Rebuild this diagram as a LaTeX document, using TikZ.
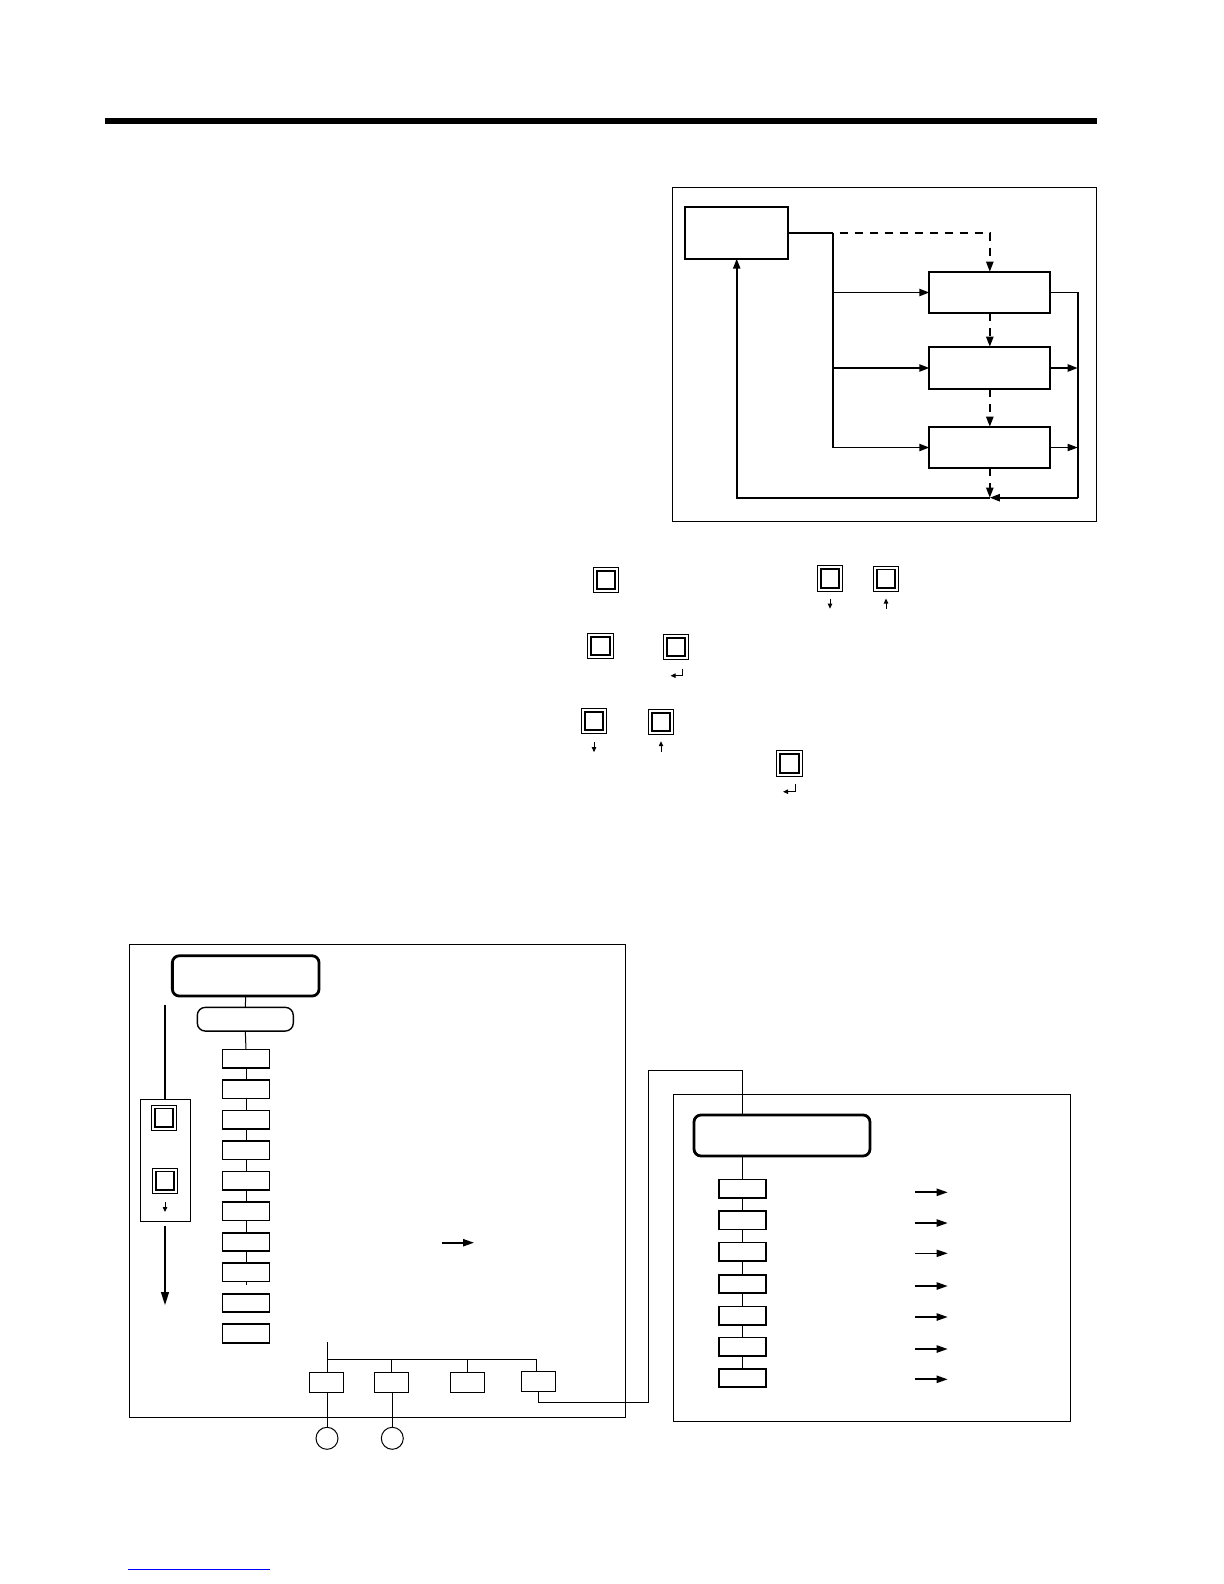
\documentclass[tikz,border=0pt]{standalone}
\usetikzlibrary{arrows.meta}
\begin{document}
\begin{tikzpicture}[x=0.5pt,y=-0.5pt,
  frame/.style={draw,line width=0.5pt},
  tbox/.style={draw,line width=0.9pt,inner sep=0pt,outer sep=0pt},
  sbox/.style={draw,line width=0.85pt,inner sep=0pt,outer sep=0pt,minimum width=23.5pt,minimum height=9.2pt},
  tinybox/.style={draw,line width=0.5pt,inner sep=0pt,outer sep=0pt,minimum width=17pt,minimum height=10pt},
  rbig/.style={draw,line width=1.4pt,rounded corners=3.5pt,inner sep=0pt,outer sep=0pt},
  rsmall/.style={draw,line width=0.7pt,rounded corners=4pt,inner sep=0pt,outer sep=0pt},
  ln/.style={line width=0.85pt},
  thinln/.style={line width=0.5pt},
  dsh/.style={line width=0.85pt,dash pattern=on 4pt off 3.5pt},
  arr/.style={-{Triangle[length=5pt,width=3.6pt]}},
  sarr/.style={-{Triangle[length=2.5pt,width=2.2pt]}},
  keyicon/.style={draw,line width=0.45pt,inner sep=0pt,outer sep=0pt,minimum size=12.7pt,
    path picture={\draw[line width=0.95pt]
      ([xshift=1.7pt,yshift=-1.7pt]path picture bounding box.north west) rectangle
      ([xshift=-1.7pt,yshift=1.7pt]path picture bounding box.south east);}},
  circ/.style={draw,line width=0.5pt,circle,inner sep=0pt,outer sep=0pt,minimum size=11pt}
]
\useasboundingbox (0,0) rectangle (1224,1584);
% top rule
\fill (105,118) rectangle (1097,124);

% ---------- top-right flow diagram ----------
\draw[frame] (672.7,187.3) rectangle (1096.7,521.7);
\node[tbox,minimum width=51.65pt,minimum height=26pt] (A) at (736.7,232.7) {};
\node[tbox,minimum width=60.5pt,minimum height=20.8pt] (B1) at (989.8,292.5) {};
\node[tbox,minimum width=60.5pt,minimum height=21.3pt] (B2) at (989.8,368) {};
\node[tbox,minimum width=60.5pt,minimum height=20.8pt] (B3) at (989.8,447.5) {};
\coordinate (j) at (832.7,232.7);
\coordinate (rx) at (1077.7,497.7);
\coordinate (mb) at (989.8,497.7);
\draw[ln] (A.east) -- (j);
\draw[dsh,dash phase=4pt,arr] (j) -| (B1.north);
\draw[ln,arr] (j) |- (B3.west);
\draw[ln,arr] (j |- B1.west) -- (B1.west);
\draw[ln,arr] (j |- B2.west) -- (B2.west);
\draw[ln] (B1.east) -- (B1.east -| rx) -- (rx);
\draw[ln,arr] (rx) -- (mb);
\draw[ln,arr] (mb) -| (A.south);
\draw[ln,arr] (B2.east) -- (B2.east -| rx);
\draw[thinln,arr] (B3.east) -- (B3.east -| rx);
\draw[dsh,arr] (B1.south) -- (B2.north);
\draw[dsh,arr] (B2.south) -- (B3.north);
\draw[dsh,arr] (B3.south) -- (mb);

% ---------- key icons ----------
\node[keyicon] (K1) at (606,580) {};
\node[keyicon] (K2) at (830,578.5) {};
\node[keyicon] (K3) at (886,578.8) {};
\node[keyicon] (K4) at (600.5,646) {};
\node[keyicon] (K5) at (676,647) {};
\node[keyicon] (K6) at (594,721) {};
\node[keyicon] (K7) at (661,722) {};
\node[keyicon] (K8) at (789.5,763.5) {};
\draw[thinln,sarr] ([shift={(0,7.5)}]K2.south) -- ([shift={(0,17.5)}]K2.south);
\draw[thinln,sarr] ([shift={(0,17)}]K3.south) -- ([shift={(0,7)}]K3.south);
\draw[thinln,sarr] ([shift={(0,8.5)}]K6.south) -- ([shift={(0,18.5)}]K6.south);
\draw[thinln,sarr] ([shift={(0,17)}]K7.south) -- ([shift={(0,6.5)}]K7.south);
\draw[thinln,sarr] ([shift={(6,9)}]K5.south) -- ([shift={(6,16)}]K5.south) -- ([shift={(-5.5,16)}]K5.south);
\draw[thinln,sarr] ([shift={(6,8)}]K8.south) -- ([shift={(6,15.5)}]K8.south) -- ([shift={(-6.5,15.5)}]K8.south);

% ---------- lower-left menu tree ----------
\draw[frame] (129.3,944.3) rectangle (625.7,1417.7);
\node[rbig,minimum width=73.35pt,minimum height=20.15pt] (R1) at (245.7,975.9) {};
\node[rsmall,minimum width=48pt,minimum height=11.85pt] (R2) at (245.3,1019.2) {};
\foreach \i in {1,...,10}
  \node[sbox] (L\i) at (246,{1058.7+(\i-1)*30.53}) {};
\draw[thinln] (R1.south) -- (R2.north);
\draw[thinln] (R2.south) -- (L1.north);
\foreach \i [evaluate=\i as \n using int(\i+1)] in {1,...,7}
  \draw[thinln] (L\i.south) -- (L\n.north);
\coordinate (stub) at (246,1285);
\draw[thinln] (L8.south) -- (stub);

% side key panel
\node[draw,line width=0.5pt,inner sep=0pt,outer sep=0pt,minimum width=25.2pt,minimum height=61.2pt] (P) at (165.5,1160.5) {};
\node[keyicon] (K9) at (164,1117.8) {};
\node[keyicon] (K10) at (165,1180.8) {};
\draw[thinln,sarr] ([shift={(0,8.5)}]K10.south) -- ([shift={(0,18.5)}]K10.south);
\coordinate (ptop) at (165,1005);
\coordinate (pbot) at (165,1305);
\draw[line width=0.75pt] (ptop) -- (P.north -| ptop);
\draw[line width=0.75pt,-{Triangle[length=6.5pt,width=4pt]}] ([yshift=-2pt]P.south -| pbot) -- (pbot);

% middle arrow
\coordinate (ma1) at (441.7,1242.7);
\coordinate (ma2) at (474,1242.7);
\draw[line width=0.8pt,-{Triangle[length=5.5pt,width=3.6pt]}] (ma1) -- (ma2);

% bottom branch
\node[tinybox] (BA) at (326.3,1382.3) {};
\node[tinybox] (BB) at (391.5,1382.3) {};
\node[tinybox] (BC) at (467.5,1382.3) {};
\node[tinybox] (BD) at (538.5,1381.3) {};
\coordinate (bt) at (327.3,1342.3);
\coordinate (bh) at (536.7,1359.3);
\draw[thinln] (bt) -- (bt |- BA.north);
\draw[thinln] (bt |- bh) -- (bh) -- (bh |- BD.north);
\draw[thinln] (BB.north |- bh) -- (BB.north);
\draw[thinln] (BC.north |- bh) -- (BC.north);
\node[circ] (C1) at (327,1438.3) {};
\node[circ] (C2) at (392.3,1438.3) {};
\draw[thinln] (C1.north |- BA.south) -- (C1.north);
\draw[thinln] (C2.north |- BB.south) -- (C2.north);

% ---------- lower-right submenu ----------
\draw[frame] (673.7,1094) rectangle (1070.5,1421);
\node[rbig,minimum width=88pt,minimum height=20.5pt] (R3) at (782,1135.5) {};
\coordinate (rl) at (742.3,1156);
\foreach \y [count=\i] in {1188.7,1220.3,1251.8,1284,1315.8,1346.8,1378}
  \node[sbox] (S\i) at (742.3,\y) {};
\draw[thinln] (rl) -- (S1.north);
\foreach \i [evaluate=\i as \n using int(\i+1)] in {1,...,6}
  \draw[thinln] (S\i.south) -- (S\n.north);
\foreach \y/\w in {1192.3/0.85pt,1223/0.85pt,1253.3/0.5pt,1286/0.85pt,1317/0.85pt,1349/0.85pt,1379.3/0.85pt}
  \draw[line width=\w,-{Triangle[length=5.5pt,width=3.6pt]}] (915,\y) -- (947.7,\y);

% link from box D to submenu
\coordinate (d1) at (538.5,1402);
\coordinate (d2) at (648.3,1402);
\coordinate (d3) at (648.3,1070.7);
\coordinate (d4) at (742.3,1070.7);
\draw[thinln] (BD.south) -- (d1) -- (d2) -- (d3) -- (d4) -- (d4 |- R3.north);

% blue underline
\draw[blue,line width=0.4pt] (128,1569) -- (270,1569);
\end{tikzpicture}
\end{document}
